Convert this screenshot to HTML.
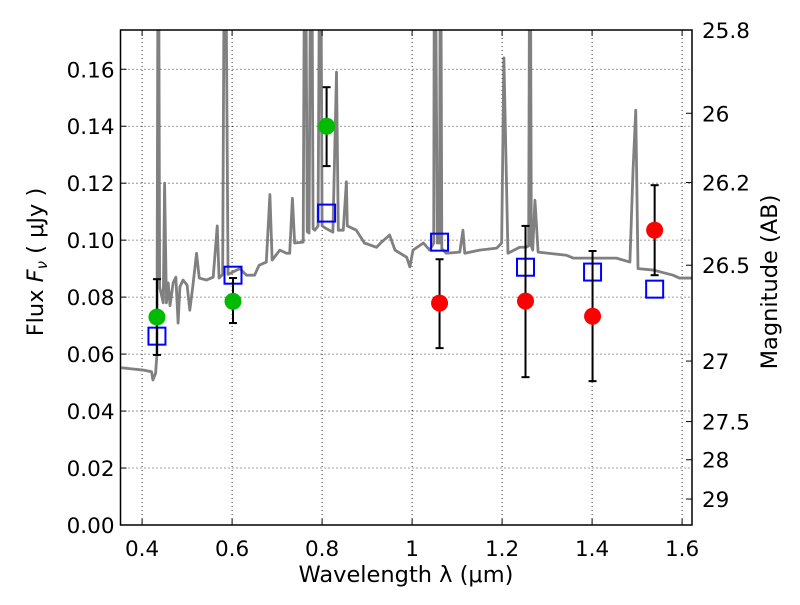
<!DOCTYPE html>
<html><head><meta charset="utf-8"><style>
body{margin:0;background:#fff}
svg text{font-family:"DejaVu Sans","Liberation Sans",sans-serif;fill:#000}
</style></head><body>
<svg id="chart" width="800" height="600" xmlns="http://www.w3.org/2000/svg">
<defs><clipPath id="plotclip"><rect x="120.5" y="30" width="571.5" height="495"/></clipPath></defs>
<rect x="0" y="0" width="800" height="600" fill="#fff"/>
<g id="grid"></g>
<g id="spec" clip-path="url(#plotclip)"></g>
<g id="marks" clip-path="url(#plotclip)"></g>
<rect x="120.5" y="30" width="571.5" height="495" fill="none" stroke="#000" stroke-width="1.5"/>
<g id="axes"></g>
<text x="406" y="582" font-size="22.5" text-anchor="middle">Wavelength  λ (μm)</text>
<text transform="translate(43,262) rotate(-90)" font-size="22.5" text-anchor="middle">Flux  <tspan font-style="italic">F</tspan><tspan font-style="italic" font-size="15" dy="4">ν</tspan><tspan dy="-4">  ( μJy )</tspan></text>
<text transform="translate(777,282) rotate(-90)" font-size="22.5" text-anchor="middle">Magnitude (AB)</text>
</svg>
<script>
const xTicks=[0.4,0.6,0.8,1.0,1.2,1.4,1.6];
const xTickLabels=["0.4","0.6","0.8","1","1.2","1.4","1.6"];
const yTicks=[0,0.02,0.04,0.06,0.08,0.10,0.12,0.14,0.16];
const yTickLabels=["0.00","0.02","0.04","0.06","0.08","0.10","0.12","0.14","0.16"];
const magTicks=[25.8,26,26.2,26.5,27,27.5,28,29];
const magTickLabels=["25.8","26","26.2","26.5","27","27.5","28","29"];
const specWave=[0.354,0.402,0.421,0.424,0.430,0.433,0.436,0.439,0.447,0.450,0.454,0.458,0.462,0.469,0.475,0.480,0.484,0.491,0.500,0.506,0.513,0.521,0.527,0.543,0.558,0.567,0.571,0.579,0.584,0.591,0.617,0.632,0.650,0.660,0.676,0.684,0.689,0.706,0.721,0.728,0.734,0.739,0.758,0.762,0.767,0.771,0.776,0.780,0.784,0.791,0.796,0.800,0.810,0.824,0.832,0.836,0.847,0.854,0.856,0.876,0.894,0.921,0.932,0.950,0.962,0.988,0.995,1.002,1.025,1.039,1.048,1.050,1.056,1.058,1.061,1.063,1.066,1.076,1.106,1.113,1.117,1.150,1.188,1.199,1.204,1.213,1.239,1.253,1.259,1.262,1.265,1.268,1.273,1.280,1.343,1.358,1.417,1.454,1.484,1.491,1.497,1.502,1.536,1.580,1.594,1.630];
const specFlux=[0.0552,0.0544,0.0538,0.0509,0.0533,0.060,0.25,0.0836,0.078,0.120,0.078,0.085,0.077,0.085,0.087,0.0709,0.0836,0.086,0.0842,0.0754,0.0842,0.0954,0.0867,0.086,0.087,0.105,0.0867,0.088,0.25,0.088,0.090,0.0877,0.0877,0.0912,0.0923,0.116,0.093,0.0965,0.0954,0.0954,0.1147,0.099,0.0993,0.25,0.103,0.1025,0.25,0.104,0.1035,0.105,0.25,0.105,0.104,0.1028,0.159,0.1035,0.1035,0.1205,0.105,0.1035,0.099,0.0975,0.0993,0.1018,0.0965,0.094,0.0906,0.0965,0.099,0.0965,0.099,0.25,0.099,0.099,0.099,0.25,0.097,0.0954,0.0958,0.1035,0.0954,0.0965,0.0972,0.099,0.164,0.0954,0.0975,0.0975,0.098,0.25,0.098,0.0965,0.114,0.0958,0.0947,0.0937,0.0937,0.0937,0.0923,0.1246,0.1456,0.090,0.0895,0.0877,0.0867,0.0867];
const greenWave=[0.433,0.602,0.810];
const greenFlux=[0.073,0.0785,0.140];
const greenErrHi=[0.0863,0.0867,0.1537];
const greenErrLo=[0.0597,0.0709,0.126];
const redWave=[1.061,1.252,1.401,1.539];
const redFlux=[0.0779,0.0786,0.0733,0.1035];
const redErrHi=[0.0933,0.105,0.0962,0.1193];
const redErrLo=[0.0621,0.0519,0.0505,0.0877];
const modelWave=[0.433,0.602,0.810,1.061,1.252,1.401,1.539];
const modelFlux=[0.0663,0.0877,0.1095,0.0993,0.0905,0.0888,0.0828];

const X0=120.5,X1=692,Y0=525,Y1=30,xmin=0.352,xmax=1.622,ymin=0,ymax=0.17378;
const sx=v=>X0+(v-xmin)/(xmax-xmin)*(X1-X0);
const sy=v=>Y0-(v-ymin)/(ymax-ymin)*(Y0-Y1);
const magToFlux=m=>Math.pow(10,(23.9-m)/2.5);
const NS="http://www.w3.org/2000/svg";
function mk(tag,attrs,parent){const e=document.createElementNS(NS,tag);for(const k in attrs)e.setAttribute(k,attrs[k]);parent.appendChild(e);return e;}
const grid=document.getElementById('grid'),axes=document.getElementById('axes'),spec=document.getElementById('spec'),marks=document.getElementById('marks');
xTicks.forEach((t,i)=>{const x=sx(t);
 const g=mk('line',{x1:x,x2:x,y1:Y1,y2:Y0,stroke:'#000','stroke-width':0.8,'stroke-dasharray':'1,3'},grid);
 
 
 mk('line',{x1:x,x2:x,y1:Y0,y2:Y0-6,stroke:'#000'},axes);
 mk('line',{x1:x,x2:x,y1:Y1,y2:Y1+6,stroke:'#000'},axes);
 const tx=mk('text',{x:x,y:Y0+31,'font-size':21.5,'text-anchor':'middle'},axes);tx.textContent=xTickLabels[i];
 
 
});
yTicks.forEach((t,i)=>{const y=sy(t);
 const g=mk('line',{x1:X0,x2:X1,y1:y,y2:y,stroke:'#000','stroke-width':0.8,'stroke-dasharray':'1,3'},grid);
 
 
 mk('line',{x1:X0,x2:X0+6,y1:y,y2:y,stroke:'#000'},axes);
 const tx=mk('text',{x:X0-6,y:y+8,'font-size':21.5,'text-anchor':'end'},axes);tx.textContent=yTickLabels[i];
 
 
});
magTicks.forEach((m,i)=>{const y=sy(magToFlux(m));
 mk('line',{x1:X1,x2:X1-6,y1:y,y2:y,stroke:'#000'},axes);
 const tx=mk('text',{x:X1+10,y:y+8,'font-size':21.5,'text-anchor':'start'},axes);tx.textContent=magTickLabels[i];
 
 
});
const pl=mk('polyline',{points:specWave.map((w,i)=>sx(w)+','+sy(specFlux[i])).join(' '),fill:'none',stroke:'#808080','stroke-width':2.8,'stroke-linejoin':'round'},spec);


function errbar(w,lo,hi){const x=sx(w);
 mk('line',{x1:x,x2:x,y1:sy(lo),y2:sy(hi),stroke:'#000','stroke-width':2},marks);
 mk('line',{x1:x-4,x2:x+4,y1:sy(lo),y2:sy(lo),stroke:'#000','stroke-width':2},marks);
 mk('line',{x1:x-4,x2:x+4,y1:sy(hi),y2:sy(hi),stroke:'#000','stroke-width':2},marks);}
modelWave.forEach((w,i)=>{
 const r=mk('rect',{x:sx(w)-8.5,y:sy(modelFlux[i])-8.5,width:17,height:17,fill:'none',stroke:'#0000ff','stroke-width':2},marks);
 
 
});
greenWave.forEach((w,i)=>{errbar(w,greenErrLo[i],greenErrHi[i]);
 const c=mk('circle',{cx:sx(w),cy:sy(greenFlux[i]),r:8.5,fill:'#00bb00'},marks);
 
 
});
redWave.forEach((w,i)=>{errbar(w,redErrLo[i],redErrHi[i]);
 const c=mk('circle',{cx:sx(w),cy:sy(redFlux[i]),r:8.5,fill:'#ff0000'},marks);
 
 
});
</script>
</body></html>
